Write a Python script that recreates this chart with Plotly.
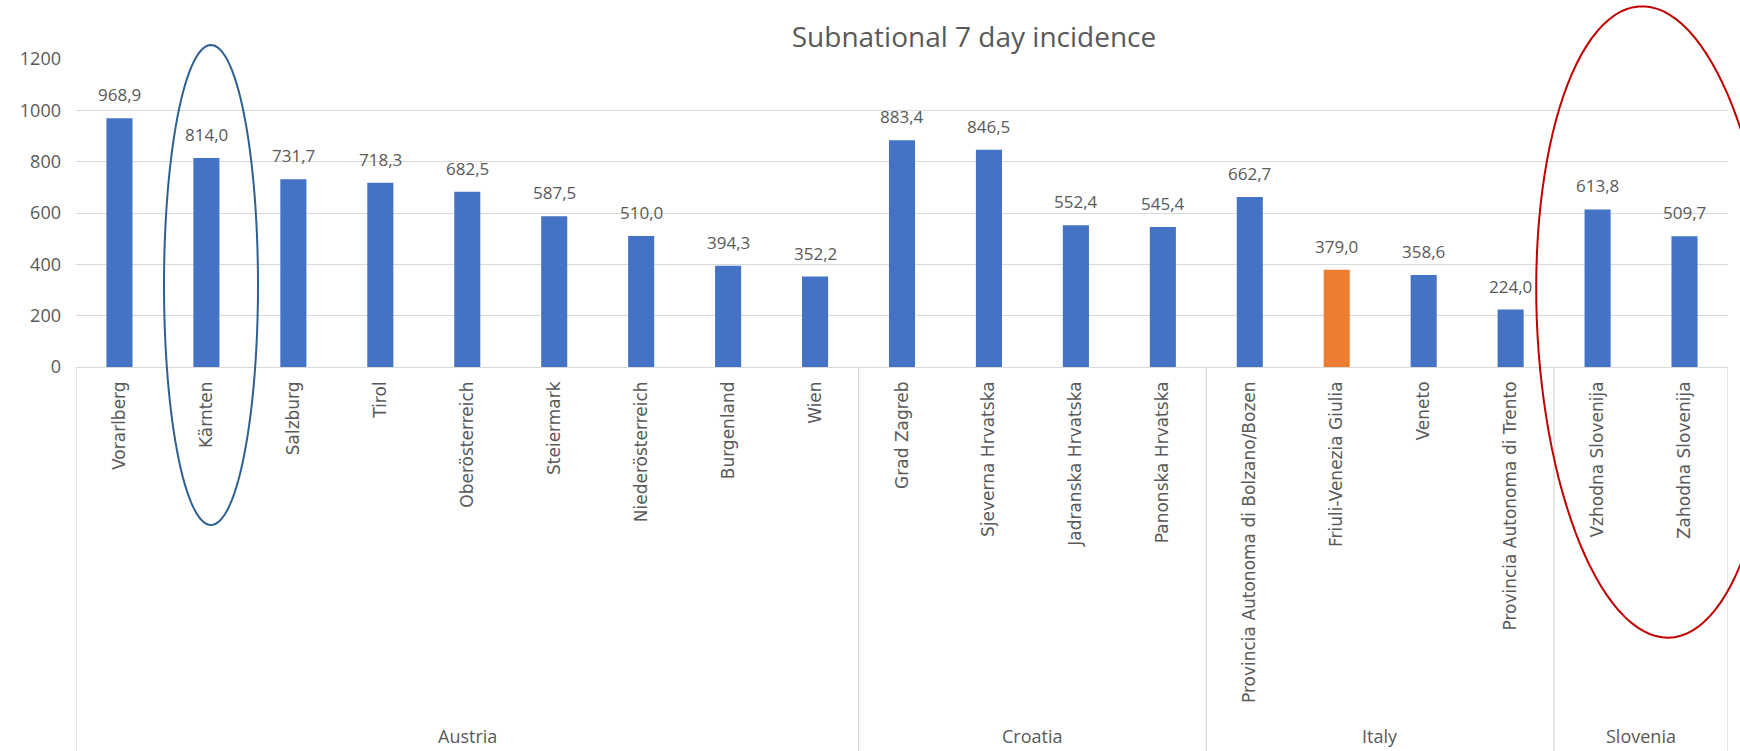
import numpy as np
import plotly.graph_objects as go

# data
countries = ["Austria"] * 9 + ["Croatia"] * 4 + ["Italy"] * 4 + ["Slovenia"] * 2
regions = ["Vorarlberg", "Kärnten", "Salzburg", "Tirol", "Oberösterreich", "Steiermark",
           "Niederösterreich", "Burgenland", "Wien",
           "Grad Zagreb", "Sjeverna Hrvatska", "Jadranska Hrvatska", "Panonska Hrvatska",
           "Provincia Autonoma di Bolzano/Bozen", "Friuli-Venezia Giulia", "Veneto",
           "Provincia Autonoma di Trento",
           "Vzhodna Slovenija", "Zahodna Slovenija"]
incidence = [968.9, 814.0, 731.7, 718.3, 682.5, 587.5, 510.0, 394.3, 352.2,
             883.4, 846.5, 552.4, 545.4,
             662.7, 379.0, 358.6, 224.0,
             613.8, 509.7]
highlight = "Friuli-Venezia Giulia"

GREY = "#595959"
GRID = "#D9D9D9"
W, H = 1740, 751
L, R, T, B = 76, 12, 59, 384
PW, PH = W - L - R, H - T - B

colors = ["#ED7D31" if r == highlight else "#4472C4" for r in regions]

fig = go.Figure()
fig.add_trace(go.Bar(x=regions, y=incidence, marker_color=colors, marker_line_width=0,
                     showlegend=False))

# value labels with comma decimals
for r, v in zip(regions, incidence):
    fig.add_annotation(x=r, y=v, text=f"{v:.1f}".replace(".", ","), showarrow=False,
                       yanchor="bottom", yshift=10,
                       font=dict(family="Open Sans", size=17, color=GREY))

# country groups: dividers + labels
groups = []
for c in countries:
    if not groups or groups[-1][0] != c:
        groups.append([c, 0])
    groups[-1][1] += 1

ybot = (T + PH - H) / PH
pos = -0.5
fig.add_shape(type="line", xref="x", yref="paper", x0=pos, x1=pos, y0=0, y1=ybot,
              line=dict(color=GRID, width=1.3))
for name, n in groups:
    fig.add_annotation(x=pos + n / 2, xref="x", yref="paper", y=(T + PH - 736) / PH,
                       text=name, showarrow=False, yanchor="middle",
                       font=dict(family="Open Sans", size=18, color=GREY))
    pos += n
    fig.add_shape(type="line", xref="x", yref="paper", x0=pos, x1=pos, y0=0, y1=ybot,
                  line=dict(color=GRID, width=1.3))


def px_to_paper(px, py):
    return (px - L) / PW, (T + PH - py) / PH


def ellipse_path(cx, cy, a, b, tilt_deg):
    t = np.linspace(0, 2 * np.pi, 120)
    th = np.radians(tilt_deg)
    xs = cx + a * np.cos(t) * np.cos(th) - b * np.sin(t) * np.sin(th)
    ys = cy + a * np.cos(t) * np.sin(th) + b * np.sin(t) * np.cos(th)
    pts = [px_to_paper(x, y) for x, y in zip(xs, ys)]
    return "M " + " L ".join(f"{x:.5f},{y:.5f}" for x, y in pts) + " Z"


# hand-drawn style highlight ellipses (pixel positions)
fig.add_shape(type="path", xref="paper", yref="paper",
              path=ellipse_path(211, 285, 47, 240, 0),
              line=dict(color="#2E6091", width=2))
fig.add_shape(type="path", xref="paper", yref="paper",
              path=ellipse_path(1655, 322, 118, 316, -2.7),
              line=dict(color="#C00000", width=2))

fig.update_layout(
    width=W, height=H,
    margin=dict(l=L, r=R, t=T, b=B),
    plot_bgcolor="white", paper_bgcolor="white",
    bargap=0.7,
    title=dict(text="Subnational 7 day incidence", xref="paper", x=(974 - L) / PW,
               xanchor="center", yref="container", y=1 - 37 / H, yanchor="middle",
               font=dict(family="Open Sans", size=28, color=GREY)),
    xaxis=dict(type="category", range=[-0.5, len(regions) - 0.5], tickangle=-90,
               showgrid=False, showline=False, zeroline=False, ticks="",
               ticklabelstandoff=10,
               tickfont=dict(family="DejaVu Sans", size=17, color=GREY)),
    yaxis=dict(range=[0, 1200], dtick=200, showgrid=True, gridcolor=GRID, gridwidth=1.3,
               zeroline=True, zerolinecolor=GRID, zerolinewidth=1.3, showline=False,
               ticks="", ticklabelstandoff=14,
               tickfont=dict(family="Open Sans", size=18, color=GREY)),
)

fig.write_html("out.html", config={"displayModeBar": False},
               post_script="document.body.style.margin='0';")
